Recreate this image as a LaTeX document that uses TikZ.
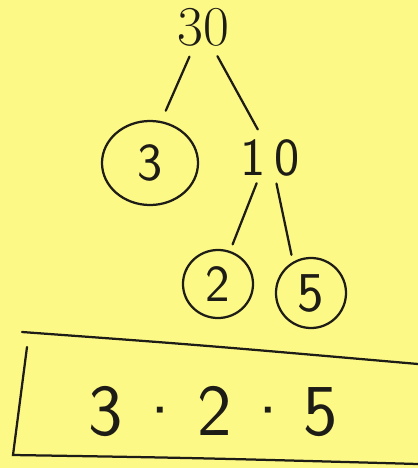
\documentclass[tikz,border=0pt]{standalone}
\usepackage{fontspec}
\usepackage{xcolor}
\usepackage{tikz}
\usetikzlibrary{shapes.geometric, positioning}

\definecolor{notepad}{RGB}{253,249,134}
\definecolor{pen}{RGB}{30,28,22}

\tikzset{
  ink/.style={line width=1.6pt, draw=pen, line cap=round},
  branch/.style={ink, shorten <=#1, shorten >=#1},
  branch/.default=14pt,
  prime/.style={ellipse, ink, inner sep=0pt, text=pen},
  numb/.style={inner sep=0pt, text=pen},
}

\begin{document}
\begin{tikzpicture}[x=0.025cm, y=-0.025cm]
  % paper
  \fill[notepad] (0,0) rectangle (418,468);
  \useasboundingbox (0,0) rectangle (418,468);

  % the tree
  \node[numb, font=\fontsize{40}{44}\selectfont] (n30) at (203,27) {30};
  \node[prime, minimum width=2.4cm, minimum height=2.1cm,
        font=\sffamily\fontsize{38}{42}\selectfont] (n3) at (150,163) {3};
  \node[numb, font=\sffamily\fontsize{38}{42}\selectfont] (n10) at (270,158) {1\,0};
  \node[prime, minimum width=1.75cm, minimum height=1.7cm,
        font=\sffamily\fontsize{37}{40}\selectfont] (n2) at (218,284) {2};
  \node[prime, minimum width=1.75cm, minimum height=1.75cm,
        font=\sffamily\fontsize{40}{44}\selectfont] (n5) at (311,293) {5};

  % branches
  \draw[branch=8pt] (n30.-115) -- (n3.75);
  \draw[branch=8pt] (n30.-65) -- (n10.110);
  \draw[branch=5pt] (n10.-120) -- (n2.70);
  \draw[branch=5pt] (n10.-75) -- (n5.120);

  % answer box, open at the right
  \draw[ink] (22,332) .. controls (200,345) .. (418,364);
  \draw[ink] (27,347) -- (13,455) .. controls (200,458) .. (418,464);

  \node[numb, font=\sffamily\fontsize{52}{56}\selectfont] (prod) at (213,412)
    {3\hspace{0.15em}·\hspace{0.15em}2\hspace{0.12em}·\hspace{0.12em}5};
\end{tikzpicture}
\end{document}
